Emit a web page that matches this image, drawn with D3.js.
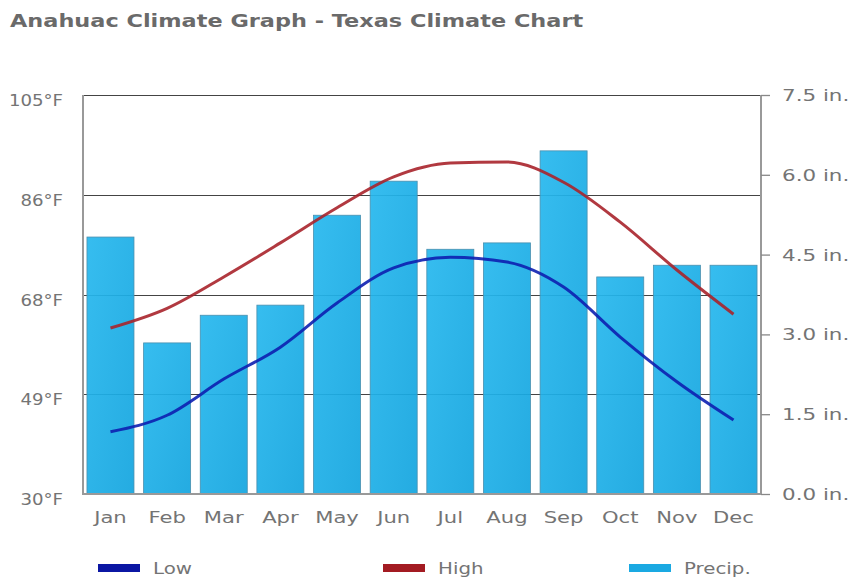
<!DOCTYPE html>
<html><head><meta charset="utf-8">
<script src="https://cdn.jsdelivr.net/npm/d3@7"></script>
<style>body{margin:0;background:#fff}</style>
</head><body>
<svg id="c" width="853" height="579"></svg>
<script>
const months = ["Jan","Feb","Mar","Apr","May","Jun","Jul","Aug","Sep","Oct","Nov","Dec"];
const lowF = [41.7,44.8,51.6,57.6,65.9,72.5,74.5,73.6,68.9,59.5,51.1,43.9];
const highF = [61.2,64.9,70.8,77.2,83.8,89.6,92.2,92.4,88.6,81.1,72.1,63.8];
const precipIn = [4.83,2.84,3.36,3.55,5.24,5.88,4.6,4.72,6.45,4.08,4.3,4.3];
const tempTicks = [30,48.75,67.5,86.25,105];
const tempTickLabels = ["30°F","49°F","68°F","86°F","105°F"];
const precipTicks = [0,1.5,3,4.5,6,7.5];
const legendItems = [{k:"Low",c:"#0b16a3"},{k:"High",c:"#a31b22"},{k:"Precip.",c:"#1aa9e2"}];

const svg = d3.select("#c");
const L=83, R=761, T=95, B=494;
const x = d3.scaleBand().domain(months).range([L,R]).paddingInner(0.17).paddingOuter(0.07);
const yT = d3.scaleLinear().domain([30,105]).range([B,T]);
const yP = d3.scaleLinear().domain([0,7.5]).range([B,T]);
const font = "Verdana, 'DejaVu Sans', sans-serif";
const txtCol = "#747474";

function stext(sel, sx){
  return sel.attr("transform", function(){
      const px = +this.getAttribute("data-x"), py = +this.getAttribute("data-y");
      return `translate(${px},${py}) scale(${sx},1)`;
    });
}

const title = svg.append("text").attr("data-x",10).attr("data-y",27).text("Anahuac Climate Graph - Texas Climate Chart")
  .attr("font-family",font).attr("font-weight","bold").attr("font-size",18).attr("fill","#6a6a6a");
stext(title,1.245);

const defs = svg.append("defs");
const g = defs.append("linearGradient").attr("id","bg").attr("x1","0").attr("y1","0").attr("x2","1").attr("y2","1");
g.append("stop").attr("offset","0").attr("stop-color","#27b8ee");
g.append("stop").attr("offset","1").attr("stop-color","#14a5df");

svg.append("g").selectAll("line").data(tempTicks.slice(1)).join("line")
  .attr("x1",L).attr("x2",d=>d===105?R+4:R).attr("y1",d=>Math.round(yT(d))+0.5).attr("y2",d=>Math.round(yT(d))+0.5)
  .attr("stroke","#444").attr("stroke-width",1.2);

svg.append("g").selectAll("rect").data(months).join("rect")
  .attr("x",d=>x(d)).attr("width",x.bandwidth())
  .attr("y",(d,i)=>yP(precipIn[i])).attr("height",(d,i)=>B-yP(precipIn[i]))
  .attr("fill","url(#bg)").attr("fill-opacity",0.93).attr("stroke","#4a8fae").attr("stroke-width",0.8);

svg.append("line").attr("x1",L).attr("x2",L).attr("y1",T).attr("y2",B+1).attr("stroke","#999").attr("stroke-width",2);
svg.append("line").attr("x1",R).attr("x2",R).attr("y1",T).attr("y2",B+1).attr("stroke","#999").attr("stroke-width",2);
svg.append("line").attr("x1",L-1).attr("x2",R+1).attr("y1",B).attr("y2",B).attr("stroke","#999").attr("stroke-width",2);

const lt = svg.append("g").selectAll("text").data(tempTicks).join("text")
  .attr("data-x",63).attr("data-y",d=>yT(d)+11).attr("text-anchor","end").text((d,i)=>tempTickLabels[i])
  .attr("font-family",font).attr("font-size",16.5).attr("fill",txtCol);
stext(lt,1.1);

const ra = svg.append("g").attr("transform",`translate(${R},0)`)
  .call(d3.axisRight(yP).tickValues(precipTicks).tickSize(9).tickFormat(""));
ra.select(".domain").remove();
ra.selectAll("line").attr("stroke","#888").attr("stroke-width",1.3);
const rt = svg.append("g").selectAll("text").data(precipTicks).join("text")
  .attr("data-x",782).attr("data-y",d=>yP(d)+6).text(d=>d3.format(".1f")(d)+" in.")
  .attr("font-family",font).attr("font-size",16.5).attr("fill",txtCol);
stext(rt,1.3);

const bt = svg.append("g").selectAll("text").data(months).join("text")
  .attr("data-x",d=>x(d)+x.bandwidth()/2).attr("data-y",523).attr("text-anchor","middle").text(d=>d)
  .attr("font-family",font).attr("font-size",16.5).attr("fill",txtCol);
stext(bt,1.28);

const line = (arr)=>d3.line().x((d,i)=>x(months[i])+x.bandwidth()/2).y(d=>yT(d)).curve(d3.curveMonotoneX)(arr);
svg.append("path").attr("d",line(highF)).attr("fill","none").attr("stroke","#a8232b").attr("stroke-width",3).attr("stroke-opacity",0.9);
svg.append("path").attr("d",line(lowF)).attr("fill","none").attr("stroke","#0d1fb0").attr("stroke-width",3).attr("stroke-opacity",0.9);

const lx=[98,383,629];
const lg = svg.append("g").selectAll("g").data(legendItems).join("g").attr("transform",(d,i)=>`translate(${lx[i]},564)`);
lg.append("rect").attr("width",42).attr("height",8).attr("fill",d=>d.c);
const ltx = lg.append("text").attr("data-x",55).attr("data-y",10).text(d=>d.k).attr("font-family",font).attr("font-size",16.5).attr("fill",txtCol);
stext(ltx,1.2);
</script>
</body></html>
